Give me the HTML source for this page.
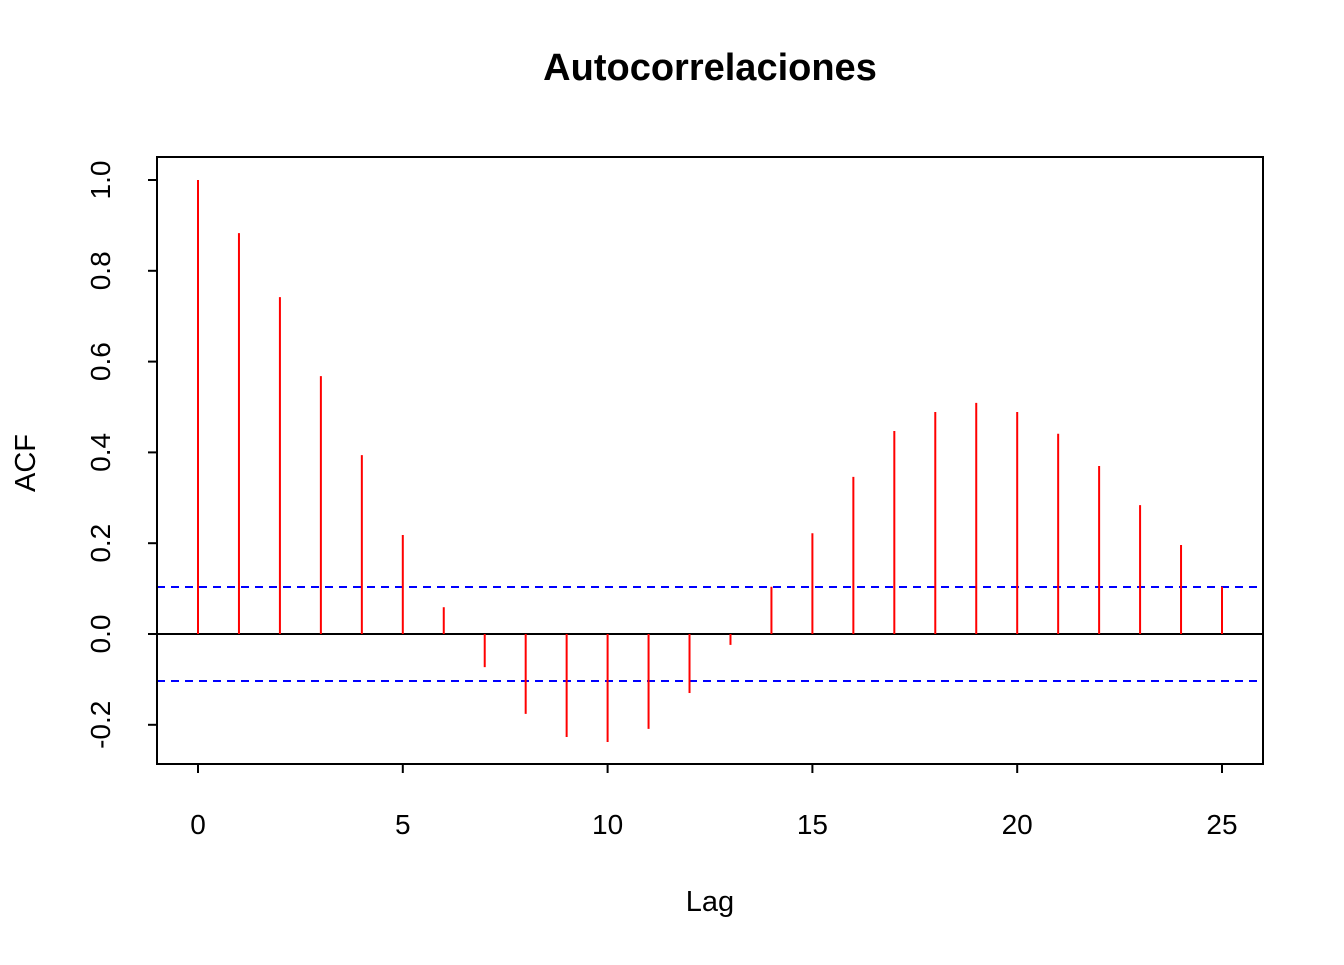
<!DOCTYPE html>
<html><head><meta charset="utf-8"><style>
body{margin:0;background:#fff}
svg text{font-family:"Liberation Sans",Arial,sans-serif;fill:#000}
</style></head><body>
<svg id="chart" width="1344" height="960" xmlns="http://www.w3.org/2000/svg">
<text x="710" y="80" font-size="38" font-weight="bold" text-anchor="middle">Autocorrelaciones</text>
<text x="710" y="911" font-size="29" text-anchor="middle">Lag</text>
<text transform="translate(35,463) rotate(-90)" font-size="29" text-anchor="middle">ACF</text>
<g id="plot"></g>
<rect x="157" y="157" width="1106" height="607" fill="none" stroke="#000" stroke-width="2"/>
</svg>
<script>
const lags=[0,1,2,3,4,5,6,7,8,9,10,11,12,13,14,15,16,17,18,19,20,21,22,23,24,25];
const acfValues=[1.0,0.883,0.742,0.568,0.394,0.218,0.059,-0.073,-0.176,-0.227,-0.238,-0.209,-0.130,-0.024,0.104,0.222,0.346,0.447,0.489,0.509,0.489,0.441,0.370,0.284,0.196,0.104];
const confBound=0.1035;
const xTicks=[0,5,10,15,20,25];
const yTicks=[-0.2,0.0,0.2,0.4,0.6,0.8,1.0];
const yTickLabels=["-0.2","0.0","0.2","0.4","0.6","0.8","1.0"];

const X=v=>198+v*40.96;
const Y=v=>634-v*454;
const NS="http://www.w3.org/2000/svg";
const g=document.getElementById('plot');
function mk(tag,attrs){const e=document.createElementNS(NS,tag);for(const k in attrs)e.setAttribute(k,attrs[k]);g.appendChild(e);return e;}

xTicks.forEach(t=>{
  const l=mk('line',{x1:X(t),x2:X(t),y1:764,y2:773,stroke:'#000','stroke-width':2});
  
  
  const tx=mk('text',{x:X(t),y:834,'font-size':28,'text-anchor':'middle'});
  tx.textContent=t;
  
  
});
yTicks.forEach((t,i)=>{
  const l=mk('line',{x1:148,x2:157,y1:Y(t),y2:Y(t),stroke:'#000','stroke-width':2});
  
  
  const tx=mk('text',{transform:`translate(110,${Y(t)}) rotate(-90)`,'font-size':28,'text-anchor':'middle'});
  tx.textContent=yTickLabels[i];
  
  
});
const z=mk('line',{x1:157,x2:1263,y1:Y(0),y2:Y(0),stroke:'#000','stroke-width':2});


[confBound,-confBound].forEach(c=>{
  const l=mk('line',{x1:157,x2:1263,y1:Y(c),y2:Y(c),stroke:'#0000ff','stroke-width':2,'stroke-dasharray':'8,6'});
  
  
});
lags.forEach((k,i)=>{
  const l=mk('line',{x1:X(k),x2:X(k),y1:Y(0),y2:Y(acfValues[i]),stroke:'#ff0000','stroke-width':2});
  
  
});
</script>
</body></html>
